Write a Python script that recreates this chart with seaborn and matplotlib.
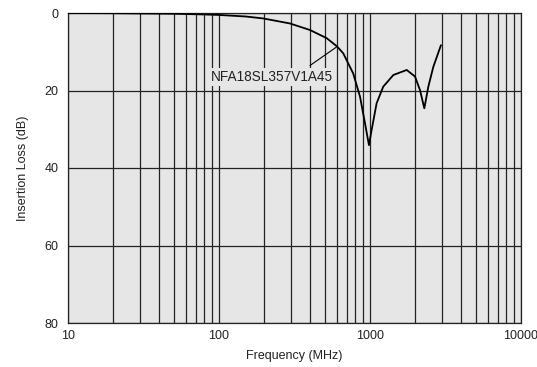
import numpy as np
import pandas as pd
import matplotlib
matplotlib.use("Agg")
import matplotlib.pyplot as plt
import matplotlib.ticker as mticker
import seaborn as sns

# Values
freq_mhz = [10, 20, 50, 75, 100, 150, 196, 295, 401, 517, 604, 665, 774, 859, 927, 984,
            1025, 1106, 1224, 1428, 1751, 1987, 2143, 2290, 2434, 2626, 2951]
loss_db = [0.0, 0.05, 0.2, 0.35, 0.5, 0.9, 1.4, 2.7, 4.4, 6.5, 8.6, 10.4, 15.6, 21.6, 28.5, 34.1,
           30.2, 23.3, 19.0, 16.0, 14.7, 16.4, 19.9, 24.6, 19.0, 13.9, 8.3]
part_name = "NFA18SL357V1A45"

df = pd.DataFrame({"freq": freq_mhz, "loss": loss_db})

sns.set_style("white")
plt.rcParams["font.family"] = ["Liberation Sans", "DejaVu Sans"]

fig = plt.figure(figsize=(5.37, 3.67), dpi=100)
ax = fig.add_axes([68 / 537, 1 - 323 / 367, 453 / 537, 310 / 367])
ax.set_facecolor("#e6e6e6")

sns.lineplot(data=df, x="freq", y="loss", ax=ax, color="black", linewidth=1.3, zorder=3)

ax.set_xscale("log")
ax.set_xlim(10, 10000)
ax.set_ylim(80, 0)
ax.set_yticks([0, 20, 40, 60, 80])
ax.xaxis.set_major_locator(mticker.FixedLocator([10, 100, 1000, 10000]))
ax.xaxis.set_major_formatter(mticker.FuncFormatter(lambda v, p: f"{int(v)}"))
ax.xaxis.set_minor_locator(mticker.LogLocator(base=10, subs=np.arange(2, 10)))
ax.xaxis.set_minor_formatter(mticker.NullFormatter())
ax.grid(True, which="both", axis="x", color="#222222", linewidth=0.9)
ax.grid(True, which="major", axis="y", color="#222222", linewidth=0.9)
ax.tick_params(which="both", length=0, labelsize=9, colors="#222222")
ax.tick_params(axis="y", pad=7)
ax.tick_params(axis="x", pad=5)
for s in ax.spines.values():
    s.set_color("#222222")
    s.set_linewidth(0.9)

ax.set_xlabel("Frequency (MHz)", fontsize=9, labelpad=6, color="#222222")
ax.set_ylabel("Insertion Loss (dB)", fontsize=9, labelpad=11, color="#222222")

ax.annotate(part_name, xy=(604, 8.7), xytext=(224, 16.5),
            ha="center", va="center", fontsize=9.8, color="#222222",
            bbox=dict(boxstyle="square,pad=0.15", fc="#e6e6e6", ec="none"),
            arrowprops=dict(arrowstyle="-", color="black", lw=0.8,
                            shrinkA=3, shrinkB=0, relpos=(0.76, 1.0)),
            zorder=4)

fig.savefig("out.png", dpi=100)
